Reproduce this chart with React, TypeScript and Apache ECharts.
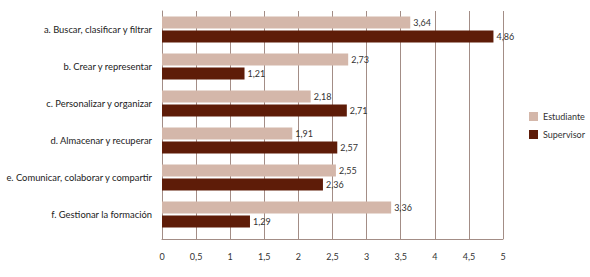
import React, { useEffect, useRef } from "react";
import * as echarts from "echarts";

const categories = [
  "a. Buscar, clasificar y filtrar",
  "b. Crear y representar",
  "c. Personalizar y organizar",
  "d. Almacenar y recuperar",
  "e. Comunicar, colaborar y compartir",
  "f. Gestionar la formación",
];
const estudiante = [3.64, 2.73, 2.18, 1.91, 2.55, 3.36];
const supervisor = [4.86, 1.21, 2.71, 2.57, 2.36, 1.29];
const seriesNames = ["Estudiante", "Supervisor"];

const FONT = "Lato, 'Open Sans', sans-serif";
const GRID_COLOR = "#a38d86";
const fmt = (v: number, d?: number) =>
  (d !== undefined ? v.toFixed(d) : String(v)).replace(".", ",");

export default function App() {
  const ref = useRef<HTMLDivElement>(null);
  useEffect(() => {
    if (!ref.current) return;
    const chart = echarts.init(ref.current, null, { renderer: "svg" });
    chart.setOption({
      animation: false,
      backgroundColor: "#ffffff",
      textStyle: { fontFamily: FONT },
      grid: {
        left: 162,
        right: 87,
        top: 11,
        bottom: 44,
        containLabel: false,
        outerBoundsMode: "none",
      },
      legend: {
        orient: "vertical",
        left: 529,
        top: 112,
        padding: 0,
        itemWidth: 9,
        itemHeight: 9,
        itemGap: 9,
        icon: "rect",
        data: seriesNames,
        textStyle: { fontSize: 9, color: "#333", fontFamily: FONT },
      },
      xAxis: {
        type: "value",
        min: 0,
        max: 5,
        interval: 0.5,
        offset: 6,
        axisLine: { show: true, lineStyle: { color: GRID_COLOR, width: 1 } },
        axisTick: { show: true, inside: true, length: 6, lineStyle: { color: GRID_COLOR } },
        splitLine: { show: true, lineStyle: { color: GRID_COLOR, width: 1 } },
        axisLabel: {
          margin: 13,
          fontSize: 9,
          color: "#333",
          fontFamily: FONT,
          formatter: (v: number) => fmt(v),
        },
      },
      yAxis: {
        type: "category",
        inverse: true,
        data: categories,
        axisLine: { show: true, lineStyle: { color: GRID_COLOR } },
        axisTick: { show: false },
        axisLabel: { margin: 10, fontSize: 9.4, color: "#222", fontFamily: FONT },
      },
      series: [
        {
          name: seriesNames[0],
          type: "bar",
          data: estudiante,
          barWidth: 12,
          barGap: "17%",
          itemStyle: { color: "#d4b7aa" },
          label: {
            show: true,
            position: "right",
            distance: 3,
            fontSize: 9,
            color: "#333",
            fontFamily: FONT,
            formatter: (p: any) => fmt(p.value, 2),
          },
        },
        {
          name: seriesNames[1],
          type: "bar",
          data: supervisor,
          barWidth: 12,
          barGap: "17%",
          itemStyle: { color: "#5e1c08" },
          label: {
            show: true,
            position: "right",
            distance: 3,
            fontSize: 9,
            color: "#333",
            fontFamily: FONT,
            formatter: (p: any) => fmt(p.value, 2),
          },
        },
      ],
    });
    return () => chart.dispose();
  }, []);
  return (
    <div
      ref={ref}
      style={{ position: "fixed", left: 0, top: 0, width: 590, height: 277, background: "#fff" }}
    />
  );
}
